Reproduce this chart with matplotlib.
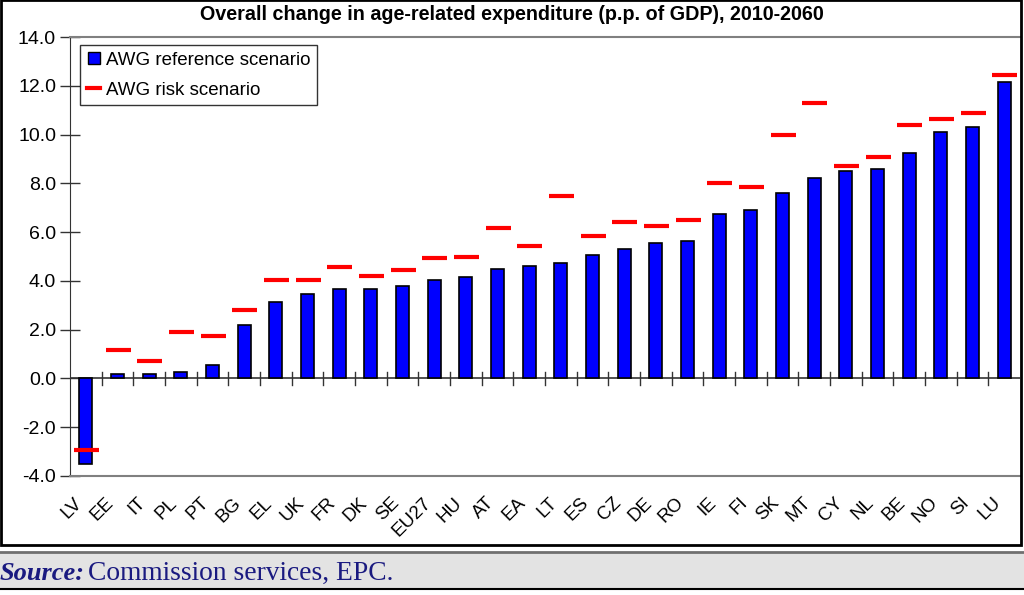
import matplotlib.pyplot as plt
from matplotlib.patches import Rectangle
from matplotlib.lines import Line2D

countries = ["LV", "EE", "IT", "PL", "PT", "BG", "EL", "UK", "FR", "DK", "SE", "EU27",
             "HU", "AT", "EA", "LT", "ES", "CZ", "DE", "RO", "IE", "FI", "SK", "MT",
             "CY", "NL", "BE", "NO", "SI", "LU"]
reference = [-3.5, 0.2, 0.2, 0.25, 0.55, 2.2, 3.15, 3.45, 3.65, 3.65, 3.8, 4.05,
             4.15, 4.5, 4.6, 4.75, 5.05, 5.3, 5.55, 5.65, 6.75, 6.9, 7.6, 8.2,
             8.5, 8.6, 9.25, 10.1, 10.3, 12.15]
risk = [-2.95, 1.15, 0.7, 1.9, 1.75, 2.8, 4.05, 4.05, 4.55, 4.2, 4.45, 4.95,
        5.0, 6.15, 5.45, 7.5, 5.85, 6.4, 6.25, 6.5, 8.0, 7.85, 10.0, 11.3,
        8.7, 9.1, 10.4, 10.65, 10.9, 12.45]
yticks = [-4, -2, 0, 2, 4, 6, 8, 10, 12, 14]

plt.rcParams['font.family'] = ['Liberation Sans', 'DejaVu Sans']

fig = plt.figure(figsize=(10.24, 5.95), dpi=100)
ax = fig.add_axes([70 / 1024, 1 - 476 / 595, 950 / 1024, 439 / 595])

x = list(range(len(countries)))
ax.bar(x, reference, width=0.42, color='#0000ff', edgecolor='black', linewidth=1.2,
       zorder=2)
ax.plot(x, risk, linestyle='none', marker='_', markersize=18, markeredgewidth=3,
        color='#ff0000', zorder=3)

ax.set_xlim(-0.5, len(countries) - 0.5)
ax.set_ylim(-4, 14)
ax.set_yticks(yticks)
ax.set_yticklabels([f"{v:.1f}" for v in yticks], fontsize=14)
ax.tick_params(axis='y', direction='inout', length=14, width=1, color='#333333', pad=3)

# category boundary ticks on the zero line
ax.set_xticks([])
for b in range(1, len(countries)):
    ax.plot([b - 0.5, b - 0.5], [-0.25, 0.25], color='#333333', lw=1, zorder=1)
ax.axhline(0, color='#333333', lw=1.2, zorder=1)
for i, c in enumerate(countries):
    ax.text(i - 0.38, -4.75, c, rotation=45, ha='right', va='top', fontsize=13.5,
            rotation_mode='anchor')

for s in ['top', 'bottom']:
    ax.spines[s].set_color('#808080')
    ax.spines[s].set_linewidth(1.5)
ax.spines['left'].set_color('#333333')
ax.spines['right'].set_visible(False)

fig.text(0.5, 1 - 15 / 595,
         "Overall change in age-related expenditure (p.p. of GDP), 2010-2060",
         fontsize=14.2, fontweight='bold', ha='center', va='center')

handles = [
    Line2D([], [], linestyle='none', marker='s', markersize=9, markerfacecolor='#0000ff',
           markeredgecolor='black'),
    Line2D([], [], color='#ff0000', lw=3),
]
leg = ax.legend(handles, ["AWG reference scenario", "AWG risk scenario"],
                loc='upper left', bbox_to_anchor=(0.011, 0.982), fontsize=13.5,
                frameon=True, fancybox=False, handlelength=0.7, handletextpad=0.3,
                borderpad=0.35, labelspacing=0.7, borderaxespad=0)
leg.get_frame().set_edgecolor('black')
leg.get_frame().set_linewidth(1)

# outer frame and source band
fig.patches.append(Rectangle((0.5 / 1024, 1 - 545 / 595), 1020 / 1024, 545 / 595,
                             transform=fig.transFigure, fill=False, edgecolor='black',
                             lw=2))
fig.patches.append(Rectangle((0, 1 - 589 / 595), 1, 37 / 595, transform=fig.transFigure,
                             facecolor='#e3e3e3', edgecolor='none'))
fig.lines.append(Line2D([0, 1], [1 - 552 / 595] * 2, transform=fig.transFigure,
                        color='#707070', lw=2))
fig.lines.append(Line2D([0, 1], [1 - 589 / 595] * 2, transform=fig.transFigure,
                        color='black', lw=1.5))
fig.text(0.0, 1 - 573 / 595, "Source:", fontsize=19, color='#1a1a80',
         family='Liberation Serif', style='italic', fontweight='bold', va='center')
fig.text(88 / 1024, 1 - 573 / 595, "Commission services, EPC.", fontsize=19.8,
         color='#1a1a80', family='Liberation Serif', va='center')

fig.savefig("out.png", dpi=100)
